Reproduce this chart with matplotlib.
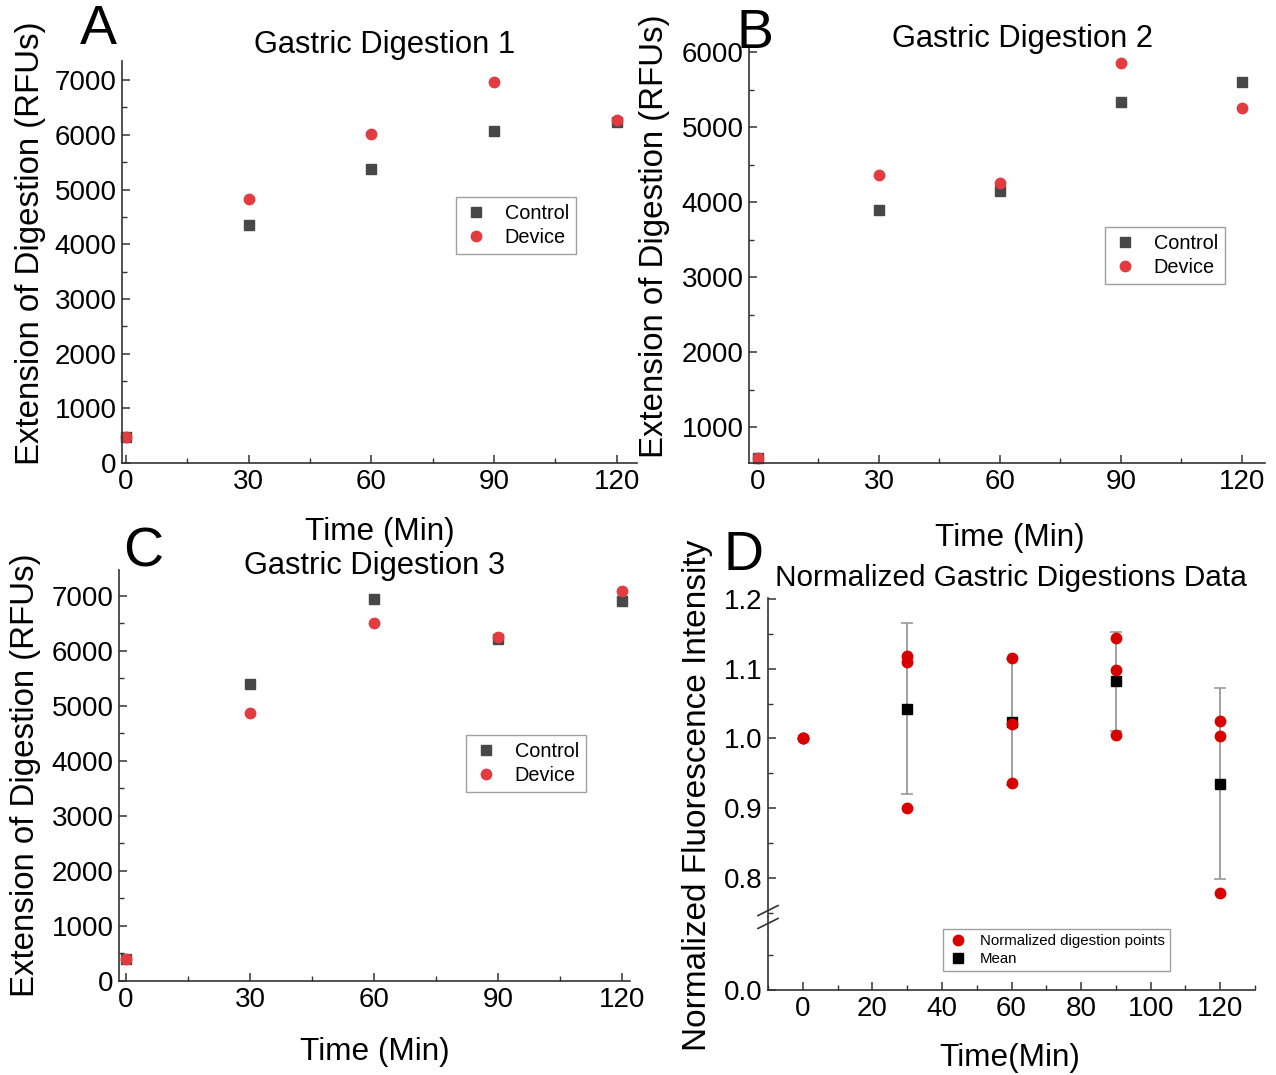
import matplotlib
matplotlib.use("Agg")
import matplotlib.pyplot as plt
from matplotlib.lines import Line2D
from matplotlib.ticker import MultipleLocator

plt.rcParams['font.family'] = ['Liberation Sans', 'DejaVu Sans']

# data
time = [0, 30, 60, 90, 120]

ctrl1 = [480, 4350, 5380, 6070, 6230]
dev1 = [480, 4830, 6010, 6960, 6280]

ctrl2 = [590, 3890, 4150, 5330, 5600]
dev2 = [590, 4360, 4250, 5860, 5260]

ctrl3 = [400, 5400, 6950, 6220, 6900]
dev3 = [400, 4870, 6510, 6260, 7080]

# normalized points (three runs per time)
norm_t = [0, 0, 0, 30, 30, 30, 60, 60, 60, 90, 90, 90, 120, 120, 120]
norm_v = [1.0, 1.0, 1.0, 1.118, 1.110, 0.901, 1.116, 1.021, 0.936,
          1.144, 1.098, 1.005, 1.025, 1.003, 0.778]
mean_t = [30, 60, 90, 120]
mean_v = [1.043, 1.024, 1.082, 0.935]
mean_err = [0.122, 0.090, 0.071, 0.137]

W, H = 1276, 1075
fig = plt.figure(figsize=(W / 100, H / 100), dpi=100)


def px_axes(l, t, r, b):
    return fig.add_axes([l / W, 1 - b / H, (r - l) / W, (b - t) / H])


def style(ax, tick_size=20):
    for s in ['top', 'right']:
        ax.spines[s].set_visible(False)
    for s in ['left', 'bottom']:
        ax.spines[s].set_linewidth(1.2)
        ax.spines[s].set_color('#333333')
    ax.tick_params(which='both', direction='in', labelsize=tick_size, pad=4,
                   color='#333333')
    ax.tick_params(which='major', length=6, width=1.1)
    ax.tick_params(which='minor', length=3.5, width=1.0)


ctrl_col = '#474747'
dev_col = '#e23c40'


def digestion_panel(rect, ctrl, dev, ylim, ytick_max, xlim):
    ax = px_axes(*rect)
    style(ax)
    ax.plot(time, ctrl, 's', color=ctrl_col, ms=6.5, label='Control', clip_on=False)
    ax.plot(time, dev, 'o', color=dev_col, ms=7.5, label='Device', clip_on=False)
    ax.set_xlim(*xlim)
    ax.set_xticks(time)
    ax.xaxis.set_minor_locator(MultipleLocator(15))
    ax.set_yticks(range(0, ytick_max + 1, 1000))
    ax.yaxis.set_minor_locator(MultipleLocator(500))
    ax.set_ylim(*ylim)
    return ax


def add_legend(ax, loc_px, fs=14.3, handles=None):
    x, y = loc_px
    if handles is None:
        handles = ax.get_legend_handles_labels()
    leg = ax.legend(*handles, loc='upper left', bbox_to_anchor=(x / W, 1 - y / H),
                    bbox_transform=fig.transFigure, fontsize=fs, frameon=True,
                    fancybox=False, edgecolor='#888888', borderpad=0.35,
                    borderaxespad=0, handletextpad=0.8, labelspacing=0.25,
                    handlelength=1.3)
    leg.get_frame().set_linewidth(1.0)
    return leg


# Panel A
axA = digestion_panel((122, 61, 637, 463), ctrl1, dev1, (0, 7350), 7000, (-1, 125))
add_legend(axA, (456, 197))
# Panel B
axB = digestion_panel((749, 46, 1265, 463), ctrl2, dev2, (520, 6080), 6000, (-2.2, 125.7))
axB.set_yticks(range(1000, 6001, 1000))
axB.set_ylim(520, 6080)
add_legend(axB, (1105, 227))
# Panel C
axC = digestion_panel((119, 570, 630, 981), ctrl3, dev3, (0, 7470), 7000, (-1.7, 122))
add_legend(axC, (466, 735))

# Panel D with broken y axis
d_red = '#d90000'
axDt = px_axes(768, 598, 1255, 917)
axDb = px_axes(768, 917, 1255, 990)
style(axDt)
style(axDb)
axDt.plot(norm_t, norm_v, 'o', color=d_red, ms=7.5, clip_on=False, zorder=3)
axDt.errorbar(mean_t, mean_v, yerr=mean_err, fmt='s', color='black', ms=7,
              ecolor='#999999', elinewidth=1.3, capsize=4, capthick=1.2,
              zorder=2)
for ax in (axDt, axDb):
    ax.set_xlim(-10, 130)
    ax.set_xticks(range(0, 121, 20))
    ax.xaxis.set_minor_locator(MultipleLocator(10))

axDt.set_ylim(0.744, 1.2015)
axDt.set_yticks([0.8, 0.9, 1.0, 1.1, 1.2])
axDt.yaxis.set_minor_locator(MultipleLocator(0.05))
axDt.spines['bottom'].set_visible(False)
axDt.tick_params(axis='x', which='both', bottom=False, labelbottom=False)

axDb.set_ylim(0, 0.104)
axDb.set_yticks([0.0])
axDb.set_yticklabels(['0.0'])
axDb.set_yticks([0.05], minor=True)

# break marks on the y axis
for dy in (-0.006, 0.006):
    fig.add_artist(Line2D([(768 - 10) / W, (768 + 10) / W],
                          [1 - (917 + 5) / H + dy, 1 - (917 - 5) / H + dy],
                          color='#333333', lw=1.2))

d_handles = [Line2D([], [], ls='none', marker='o', color=d_red, ms=7.5),
             Line2D([], [], ls='none', marker='s', color='black', ms=7)]
d_labels = ['Normalized digestion points', 'Mean']
legD = add_legend(axDb, (943, 929), fs=10.8, handles=(d_handles, d_labels))
legD.set_zorder(5)

# titles, axis labels and panel letters
def ftext(x, y, s, **kw):
    fig.text(x / W, 1 - y / H, s, ha='center', va='center', **kw)


ftext(385, 45, 'Gastric Digestion 1', fontsize=22.2)
ftext(1022, 39, 'Gastric Digestion 2', fontsize=22.2)
ftext(375, 566, 'Gastric Digestion 3', fontsize=22.2)
ftext(1011, 578, 'Normalized Gastric Digestions Data', fontsize=21.4)

ftext(380, 532, 'Time (Min)', fontsize=22.7)
ftext(1010, 538, 'Time (Min)', fontsize=22.7)
ftext(375, 1052, 'Time (Min)', fontsize=22.7)
ftext(1010, 1058, 'Time(Min)', fontsize=22.7)

ftext(31, 243, 'Extension of Digestion (RFUs)', fontsize=23.8, rotation=90)
ftext(655, 236, 'Extension of Digestion (RFUs)', fontsize=23.8, rotation=90)
ftext(26, 775, 'Extension of Digestion (RFUs)', fontsize=23.8, rotation=90)
ftext(697, 795, 'Normalized Fluorescence Intensity', fontsize=24, rotation=90)

ftext(98, 30, 'A', fontsize=40)
ftext(755, 34, 'B', fontsize=40)
ftext(143, 553, 'C', fontsize=40)
ftext(743, 556, 'D', fontsize=40)

fig.savefig('out.png', dpi=100, facecolor='white')
